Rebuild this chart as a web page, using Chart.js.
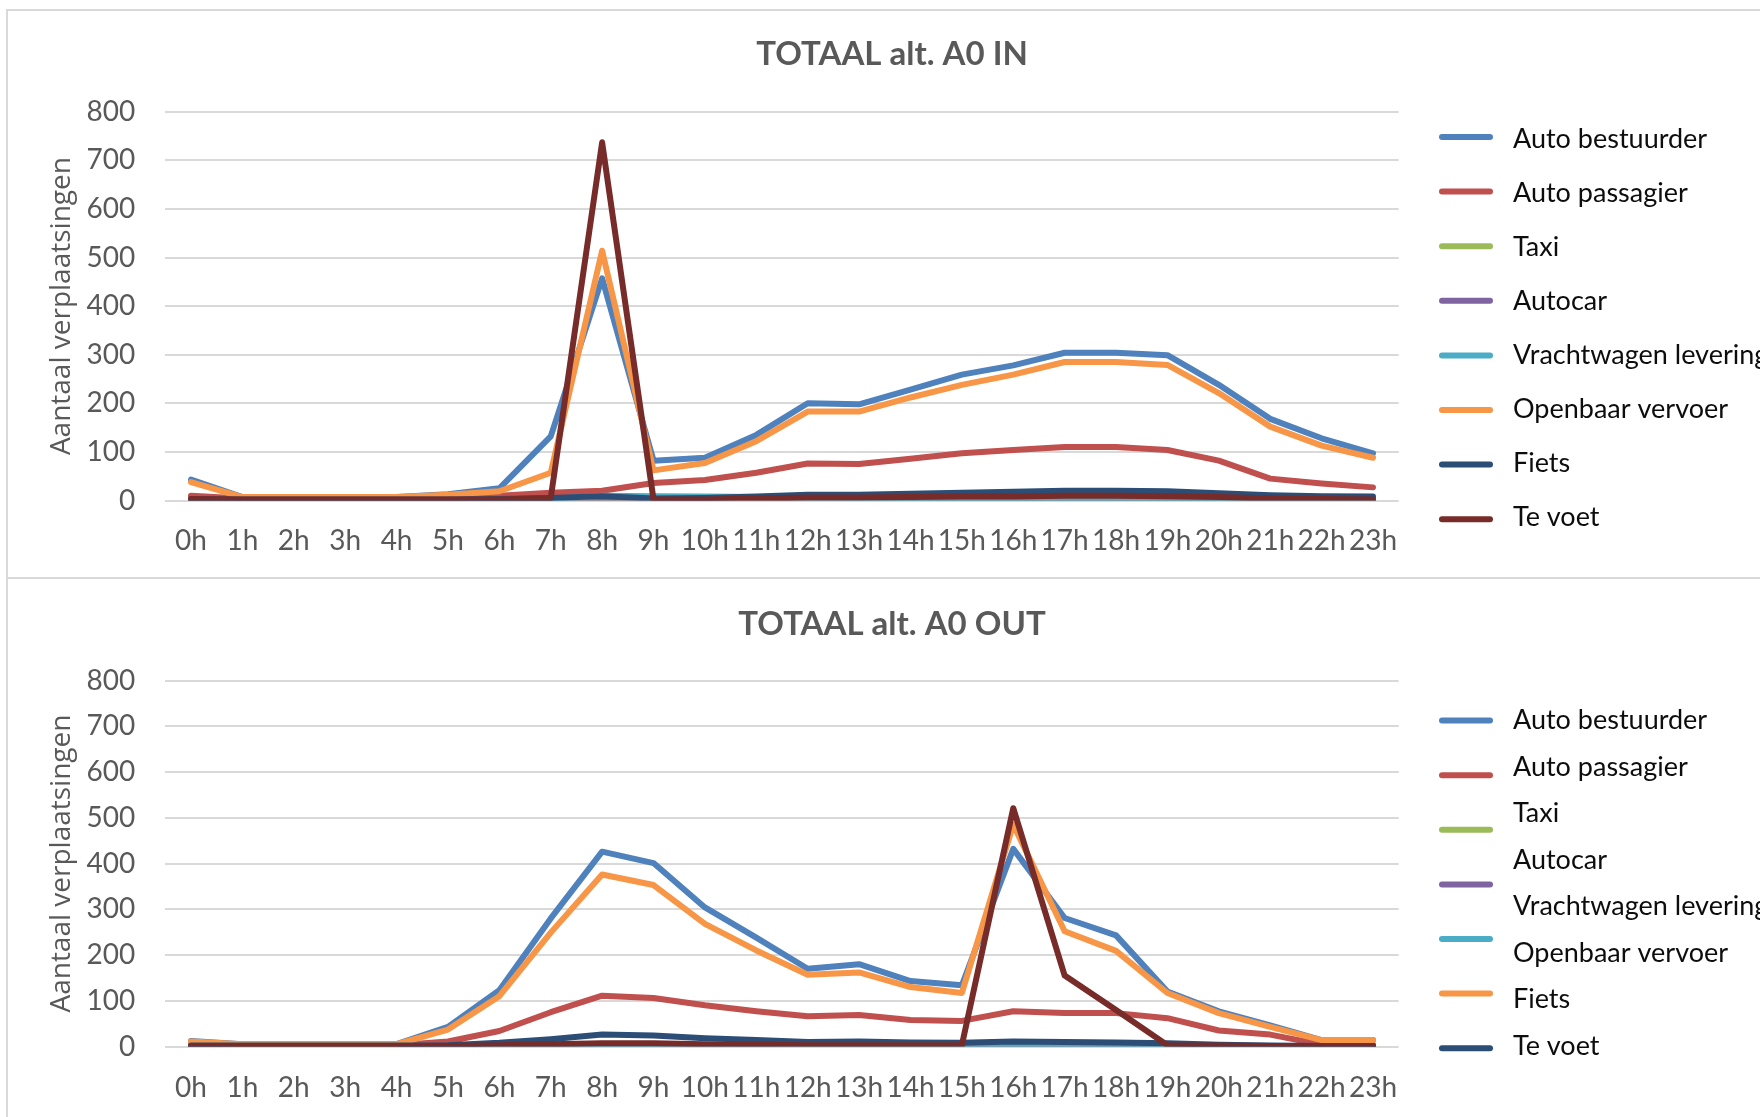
<!DOCTYPE html>
<html><head><meta charset="utf-8">
<script src="https://cdn.jsdelivr.net/npm/chart.js@4.4.1/dist/chart.umd.min.js"></script>
<style>
html,body{margin:0;padding:0;background:#fff;width:1760px;height:1117px;overflow:hidden;}
#wrap{position:relative;width:1760px;height:1117px;overflow:hidden;background:#fff;}
.panel{position:absolute;border:2px solid #D9D9D9;box-sizing:border-box;}
canvas{position:absolute;left:0;top:0;}
</style></head><body>
<div id="wrap">
<div class="panel" style="left:6px;top:9px;width:1800px;height:570px;"></div>
<div class="panel" style="left:6px;top:577px;width:1800px;height:600px;"></div>
<div style="position:absolute;left:0;top:0;width:1784px;height:578px"><canvas id="c1" width="1784" height="578"></canvas></div>
<div style="position:absolute;left:0;top:578px;width:1784px;height:560px"><canvas id="c2" width="1784" height="560"></canvas></div>
</div>
<script>
// ---- data ----
const hours = ['0h','1h','2h','3h','4h','5h','6h','7h','8h','9h','10h','11h','12h','13h','14h','15h','16h','17h','18h','19h','20h','21h','22h','23h'];
const seriesNames = ['Auto bestuurder','Auto passagier','Taxi','Autocar','Vrachtwagen levering','Openbaar vervoer','Fiets','Te voet'];
const yTicks = [0,100,200,300,400,500,600,700,800];
const titleIn = 'TOTAAL alt. A0 IN';
const titleOut = 'TOTAAL alt. A0 OUT';
const yTitle = 'Aantaal verplaatsingen';

const inAutoBestuurder = [43,7,7,7,7,13,25,132,457,82,88,135,200,198,228,259,278,304,304,299,238,168,128,97];
const inAutoPassagier  = [10,4,4,4,4,5,10,16,20,36,42,57,76,75,86,97,104,110,110,104,82,45,35,27];
const inTaxi           = [0,0,0,0,0,0,0,0,0,0,0,0,0,0,0,0,0,0,0,0,0,0,0,0];
const inAutocar        = [0,0,0,0,0,0,0,0,0,0,0,0,0,0,0,0,0,0,0,0,0,0,0,0];
const inVrachtwagen    = [0,0,0,0,0,0,1,3,10,9,8,7,6,5,4,3,3,2,2,2,1,1,0,0];
const inOpenbaar       = [38,7,7,7,7,12,19,57,514,62,77,122,183,183,212,238,259,285,285,279,221,152,113,88];
const inFiets          = [3,2,2,2,2,2,3,5,9,4,5,8,12,12,14,16,18,20,20,19,15,11,9,8];
const inTeVoet         = [3,2,2,2,2,2,2,5,737,2,2,4,6,6,7,8,8,10,10,9,7,4,3,2];

const outAutoBestuurder = [12,5,5,5,5,43,123,280,426,401,304,238,170,180,143,134,432,281,243,120,77,46,14,14];
const outAutoPassagier  = [3,3,3,3,3,11,34,75,111,106,90,77,66,69,58,56,77,73,73,62,35,26,4,4];
const outTaxi           = [0,0,0,0,0,0,0,0,0,0,0,0,0,0,0,0,0,0,0,0,0,0,0,0];
const outAutocar        = [0,0,0,0,0,0,0,0,0,0,0,0,0,0,0,0,0,0,0,0,0,0,0,0];
const outVrachtwagen    = [0,0,0,0,0,0,1,2,4,4,3,3,2,2,2,2,3,3,2,1,0,0,0,0];
const outOpenbaar       = [11,5,5,5,5,37,110,249,376,353,268,210,157,162,130,117,485,252,209,117,73,43,14,14];
const outFiets          = [2,2,2,2,2,3,8,16,26,24,18,14,10,11,9,8,11,10,9,7,4,2,1,1];
const outTeVoet         = [1,1,1,1,1,1,3,5,7,7,5,4,3,3,3,3,521,155,80,3,2,1,1,1];

const seriesColors = ['#4F81BD','#C0504D','#9BBB59','#8064A2','#4BACC6','#F79646','#2C4D75','#772C2A'];

// ---- styling / layout ----
const GREY = '#595959';
const legendPlugin = {
  id: 'customLegend',
  afterDraw(chart, args, o) {
    const ctx = chart.ctx;
    ctx.save();
    ctx.font = o.font;
    ctx.textBaseline = 'middle';
    ctx.textAlign = 'left';
    chart.data.datasets.forEach((ds, i) => {
      ctx.fillStyle = o.textColor;
      ctx.fillText(ds.label, o.labelX, o.labelY0 + i * o.labelStep);
      const my = o.markerY0 + i * o.markerStep;
      if (my < o.clipY) {
        ctx.strokeStyle = ds.borderColor;
        ctx.lineWidth = 6;
        ctx.lineCap = 'round';
        ctx.beginPath();
        ctx.moveTo(o.markerX0, my);
        ctx.lineTo(o.markerX1, my);
        ctx.stroke();
      }
    });
    ctx.restore();
  }
};

function makeChart(id, title, values, g) {
  const datasets = seriesNames.map((name, i) => ({
    label: name,
    data: values[i],
    borderColor: seriesColors[i],
    backgroundColor: seriesColors[i],
    borderWidth: 6,
    pointRadius: 0,
    tension: 0,
    fill: false,
    borderJoinStyle: 'round',
    borderCapStyle: 'round',
    order: seriesNames.length - 1 - i
  }));
  return new Chart(document.getElementById(id), {
    type: 'line',
    data: { labels: hours, datasets },
    plugins: [legendPlugin],
    options: {
      responsive: false,
      animation: false,
      events: [],
      layout: { padding: { left: 0, right: 0, top: 0, bottom: g.padBottom } },
      plugins: {
        legend: { display: false },
        tooltip: { enabled: false },
        title: {
          display: true, text: title, color: GREY,
          font: { family: 'Lato', size: 33, weight: 'bold', lineHeight: 1.2 },
          padding: { top: g.titlePadTop, bottom: g.titlePadBottom }
        },
        customLegend: g.legend
      },
      scales: {
        x: {
          type: 'category',
          offset: true,
          grid: { display: false, drawTicks: false },
          border: { display: false },
          ticks: { color: GREY, font: { family: 'Lato', size: 28, lineHeight: 1.2 }, padding: g.xPad, maxRotation: 0, minRotation: 0, autoSkip: false },
          afterFit(s) { s.height = 60; }
        },
        y: {
          type: 'linear', min: 0, max: 800,
          afterBuildTicks(s) { s.ticks = yTicks.map(v => ({ value: v })); },
          grid: { color: '#D9D9D9', lineWidth: 2, drawTicks: false },
          border: { display: false },
          ticks: { color: GREY, font: { family: 'Lato', size: 28, lineHeight: 1.2 }, padding: 30 },
          title: { display: true, text: yTitle, color: GREY, font: { family: 'Open Sans', size: 28, lineHeight: 1.2 }, padding: { top: 45, bottom: 0 } },
          afterFit(s) { s.width = 165.3; }
        },
        yRight: {
          type: 'linear', position: 'right', display: true,
          grid: { display: false, drawTicks: false },
          border: { display: false },
          ticks: { display: false },
          afterFit(s) { s.width = 1784 - 1398.7; }
        }
      }
    }
  });
}

makeChart('c1', titleIn,
  [inAutoBestuurder, inAutoPassagier, inTaxi, inAutocar, inVrachtwagen, inOpenbaar, inFiets, inTeVoet],
  { padBottom: 578 - 500.5 - 60, titlePadTop: 34.7, titlePadBottom: 37.4, xPad: 23.7,
    legend: { font: '27px Lato', textColor: '#0d0d0d', labelX: 1513, labelY0: 139.5, labelStep: 53.9,
              markerX0: 1442, markerX1: 1490, markerY0: 137, markerStep: 54.6, clipY: 578 } });

makeChart('c2', titleOut,
  [outAutoBestuurder, outAutoPassagier, outTaxi, outAutocar, outVrachtwagen, outOpenbaar, outFiets, outTeVoet],
  { padBottom: 560 - 468.5 - 60, titlePadTop: 26.2, titlePadBottom: 36.8, xPad: 25,
    legend: { font: '27px Lato', textColor: '#0d0d0d', labelX: 1513, labelY0: 142.6, labelStep: 46.5,
              markerX0: 1442, markerX1: 1490, markerY0: 142.6, markerStep: 54.6, clipY: 510 } });
</script>
</body></html>
